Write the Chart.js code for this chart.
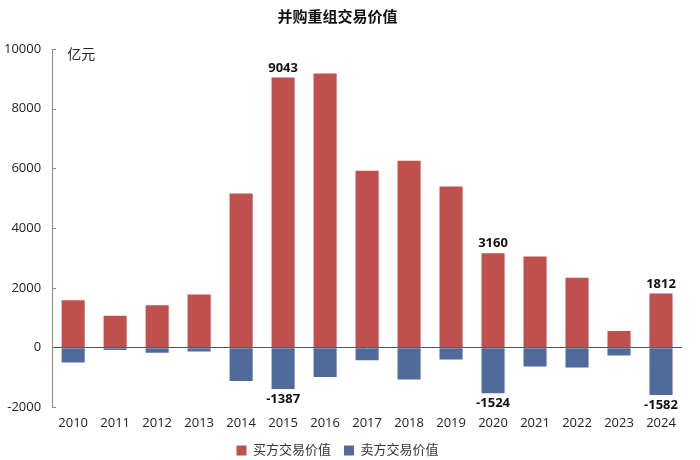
<!DOCTYPE html>
<html>
<head>
<meta charset="utf-8">
<script src="https://cdn.jsdelivr.net/npm/chart.js@4/dist/chart.umd.min.js"></script>
<style>
  html, body { margin: 0; padding: 0; background: #fff; }
  #wrap { width: 700px; height: 460px; }
</style>
</head>
<body>
<div id="wrap"><canvas id="c" width="700" height="460"></canvas></div>
<script>
const years = ['2010', '2011', '2012', '2013', '2014', '2015', '2016', '2017', '2018', '2019', '2020', '2021', '2022', '2023', '2024'];
const buyerValues = [1590, 1070, 1420, 1780, 5160, 9043, 9180, 5920, 6260, 5400, 3160, 3050, 2340, 560, 1812];
const sellerValues = [-500, -80, -170, -125, -1115, -1387, -980, -420, -1070, -395, -1524, -630, -665, -260, -1582];
const labelledYears = ['2015', '2020', '2024'];
const yTicks = [-2000, 0, 2000, 4000, 6000, 8000, 10000];

const font = '"Open Sans", "Noto Sans CJK SC", sans-serif';

// value labels, unit text and the inward tick marks of the y axis
const extras = {
    id: 'extras',
    afterDatasetsDraw(chart) {
        const ctx = chart.ctx;
        ctx.save();
        ctx.font = 'bold 13px ' + font;
        ctx.fillStyle = '#111';
        ctx.textAlign = 'center';
        chart.data.datasets.forEach((ds, di) => {
            const meta = chart.getDatasetMeta(di);
            meta.data.forEach((bar, i) => {
                if (!labelledYears.includes(years[i])) return;
                const v = ds.data[i];
                if (v >= 0) {
                    ctx.textBaseline = 'bottom';
                    ctx.fillText(String(v), bar.x, bar.y - 3);
                } else {
                    ctx.textBaseline = 'top';
                    ctx.fillText(String(v), bar.x, bar.y + 4);
                }
            });
        });
        const area = chart.chartArea;
        const y = chart.scales.y;
        ctx.strokeStyle = '#888';
        ctx.lineWidth = 1;
        yTicks.forEach((v) => {
            if (v === 0) return;
            const py = Math.round(y.getPixelForValue(v)) + 0.5;
            ctx.beginPath();
            ctx.moveTo(area.left, py);
            ctx.lineTo(area.left + 4, py);
            ctx.stroke();
        });
        ctx.font = '14px ' + font;
        ctx.fillStyle = '#222';
        ctx.textAlign = 'left';
        ctx.textBaseline = 'middle';
        ctx.fillText('亿元', area.left + 15, area.top + 6);
        ctx.restore();
    }
};

new Chart(document.getElementById('c').getContext('2d'), {
    type: 'bar',
    data: {
        labels: years,
        datasets: [{
            label: '买方交易价值',
            data: buyerValues,
            backgroundColor: '#C0504D',
            barPercentage: 0.55,
            categoryPercentage: 1
        }, {
            label: '卖方交易价值',
            data: sellerValues,
            backgroundColor: '#4F6A9B',
            barPercentage: 0.55,
            categoryPercentage: 1
        }]
    },
    options: {
        responsive: false,
        animation: false,
        layout: { padding: { left: -7, right: 18, top: 0, bottom: -7 } },
        plugins: {
            title: {
                display: true,
                text: '并购重组交易价值',
                color: '#111',
                font: { family: font, size: 15, weight: 'bold' },
                padding: { top: 9, bottom: 22 }
            },
            legend: {
                position: 'bottom',
                labels: {
                    boxWidth: 10,
                    boxHeight: 10,
                    color: '#333',
                    padding: 13,
                    font: { family: font, size: 13 }
                }
            },
            tooltip: { enabled: false }
        },
        scales: {
            x: {
                stacked: true,
                grid: { display: false },
                border: { display: false },
                ticks: { color: '#222', font: { family: font, size: 13 }, padding: 0 }
            },
            y: {
                stacked: true,
                min: -2000,
                max: 10000,
                afterBuildTicks: (axis) => {
                    axis.ticks = yTicks.map((v) => ({ value: v }));
                },
                border: { display: true, color: '#888' },
                grid: {
                    drawOnChartArea: true,
                    drawTicks: false,
                    color: (c) => (c.tick && c.tick.value === 0 ? '#555' : 'rgba(0,0,0,0)')
                },
                ticks: {
                    color: '#222',
                    font: { family: font, size: 13 },
                    padding: 11,
                    callback: (v) => String(v)
                }
            }
        }
    },
    plugins: [extras]
});
</script>
</body>
</html>
